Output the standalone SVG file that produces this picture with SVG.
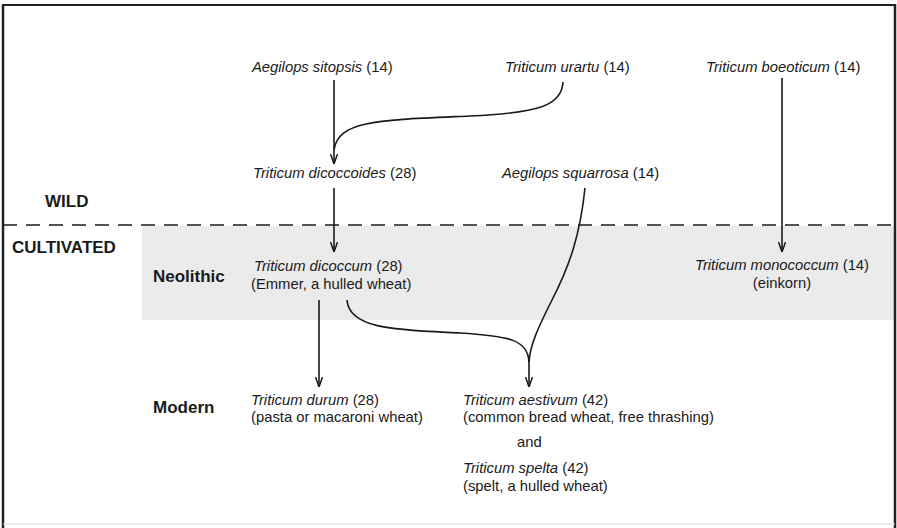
<svg xmlns="http://www.w3.org/2000/svg" width="897" height="528" viewBox="0 0 897 528">
<style>
.t{font-family:"Liberation Sans",Arial,sans-serif;font-size:14.8px;fill:#1a1a1a}
.i{font-style:italic}
.b{font-family:"Liberation Sans",Arial,sans-serif;font-size:17px;font-weight:bold;fill:#1a1a1a}
.ln{fill:none;stroke:#1a1a1a;stroke-width:1.6}
</style>
<defs>
<marker id="ah" viewBox="0 0 10 8" refX="10" refY="4" markerWidth="10" markerHeight="8" markerUnits="userSpaceOnUse" orient="auto">
<path d="M0,0.5 L10,4 L0,7.5" fill="none" stroke="#1a1a1a" stroke-width="1.5"/>
</marker>
</defs>
<rect x="0" y="0" width="897" height="528" fill="#ffffff"/>
<rect id="band" x="142" y="226" width="752" height="94" fill="#ebebeb"/>
<g id="frame">
<line x1="3" y1="5" x2="3" y2="528" stroke="#222" stroke-width="2.5"/>
<line x1="2" y1="5" x2="895" y2="5" stroke="#222" stroke-width="2"/>
<line x1="895" y1="4" x2="895" y2="528" stroke="#222" stroke-width="2.5"/>
<line x1="3" y1="524" x2="895" y2="524" stroke="#d8d8d8" stroke-width="1"/>
<line x1="3" y1="225" x2="895" y2="225" stroke="#1a1a1a" stroke-width="1.6" stroke-dasharray="14,9"/>
</g>
<g id="labels">
<text class="b" x="45" y="207">WILD</text>
<text class="b" x="12" y="253">CULTIVATED</text>
<text class="b" x="153" y="282">Neolithic</text>
<text class="b" x="153" y="413">Modern</text>
</g>
<g id="connectors">
<line class="ln" x1="334" y1="80" x2="334" y2="164" marker-end="url(#ah)"/>
<path class="ln" d="M563,82 C562,105 540,113 470,116 C380,120 338,120 334,150"/>
<line class="ln" x1="334" y1="188" x2="334" y2="252" marker-end="url(#ah)"/>
<line class="ln" x1="782" y1="78" x2="782" y2="252" marker-end="url(#ah)"/>
<line class="ln" x1="319" y1="300" x2="319" y2="387" marker-end="url(#ah)"/>
<path class="ln" d="M585,188 C580,235 570,265 552,300 C538,328 530,345 529,362"/>
<path class="ln" d="M347,300 C349,330 400,330 460,333 C510,336 528,340 529,362"/>
<line class="ln" x1="529" y1="360" x2="529" y2="387" marker-end="url(#ah)"/>
</g>
<g id="n-sitopsis"><text class="t" x="252" y="72"><tspan class="i">Aegilops sitopsis</tspan> (14)</text></g>
<g id="n-urartu"><text class="t" x="505" y="72"><tspan class="i">Triticum urartu</tspan> (14)</text></g>
<g id="n-boeoticum"><text class="t" x="706" y="72"><tspan class="i">Triticum boeoticum</tspan> (14)</text></g>
<g id="n-dicoccoides"><text class="t" x="253" y="178"><tspan class="i">Triticum dicoccoides</tspan> (28)</text></g>
<g id="n-squarrosa"><text class="t" x="502" y="178"><tspan class="i">Aegilops squarrosa</tspan> (14)</text></g>
<g id="n-dicoccum"><text class="t" x="254" y="271"><tspan class="i">Triticum dicoccum</tspan> (28)</text><text class="t" x="251" y="289">(Emmer, a hulled wheat)</text></g>
<g id="n-monococcum"><text class="t" x="782" y="270" text-anchor="middle"><tspan class="i">Triticum monococcum</tspan> (14)</text><text class="t" x="782" y="288" text-anchor="middle">(einkorn)</text></g>
<g id="n-durum"><text class="t" x="251" y="405"><tspan class="i">Triticum durum</tspan> (28)</text><text class="t" x="251" y="422">(pasta or macaroni wheat)</text></g>
<g id="n-aestivum"><text class="t" x="463" y="405"><tspan class="i">Triticum aestivum</tspan> (42)</text><text class="t" x="463" y="422">(common bread wheat, free thrashing)</text></g>
<g id="n-and"><text class="t" x="517" y="447">and</text></g>
<g id="n-spelta"><text class="t" x="463" y="473"><tspan class="i">Triticum spelta</tspan> (42)</text><text class="t" x="463" y="491">(spelt, a hulled wheat)</text></g>
</svg>
